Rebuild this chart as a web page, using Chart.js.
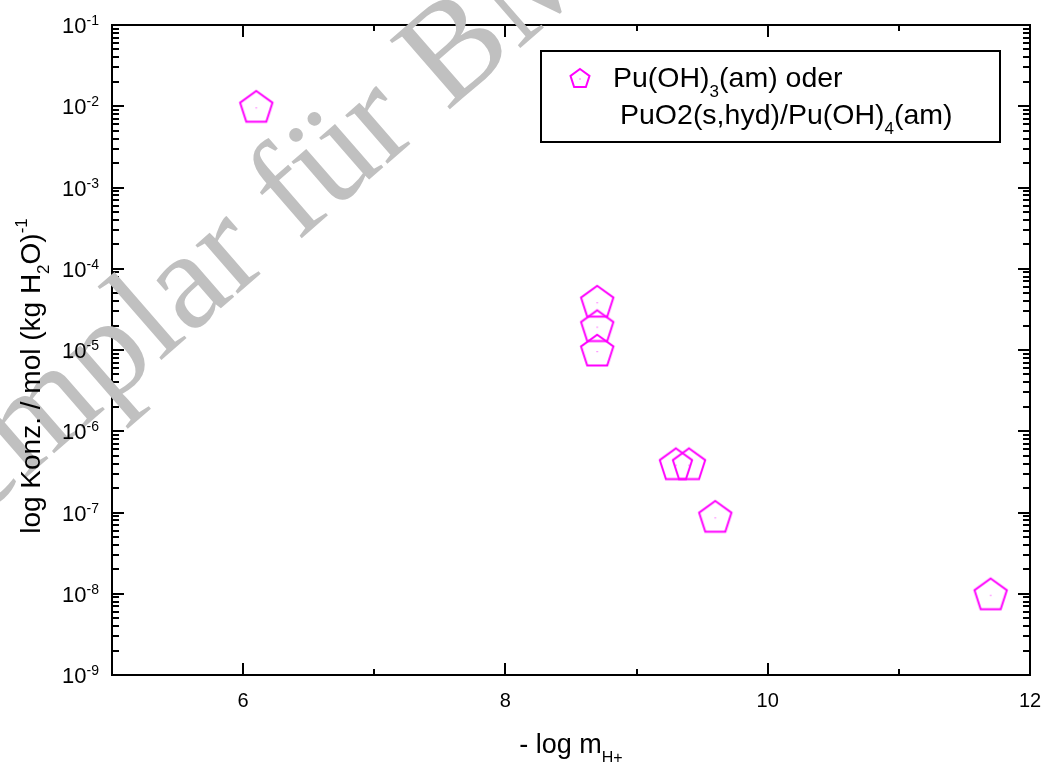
<!DOCTYPE html>
<html>
<head>
<meta charset="utf-8">
<script src="https://cdn.jsdelivr.net/npm/chart.js@4/dist/chart.umd.min.js"></script>
<style>
    body { margin: 0; background: #fff; }
    #wrap { width: 1046px; height: 762px; }
</style>
</head>
<body>
<div id="wrap"><canvas id="chart" width="1046" height="762"></canvas></div>
<script>
// --------------------- Data -------------------
const xValues = [6.1, 8.7, 8.7, 8.7, 9.3, 9.4, 9.6, 11.7];
const yValues = [1e-2, 4e-5, 2e-5, 1e-5, 4e-7, 4e-7, 9e-8, 1e-8];
const xMajorTicks = [6, 8, 10, 12];
const xMinorTicks = [7, 9, 11];
const yDecades = [-1, -2, -3, -4, -5, -6, -7, -8, -9];

const MAGENTA = '#ff00ff';
const FONT = '"Liberation Sans", Arial, sans-serif';

// pentagon marker drawn into a small canvas, used as pointStyle
function makePentagon(r, lw) {
    const size = Math.ceil(2 * r + lw * 2 + 2);
    const c = document.createElement('canvas');
    c.width = size;
    c.height = size;
    const g = c.getContext('2d');
    const cx = size / 2, cy = size / 2 + r * 0.1;
    g.strokeStyle = MAGENTA;
    g.lineWidth = lw;
    g.beginPath();
    for (let k = 0; k < 5; k++) {
        const a = -Math.PI / 2 + k * 2 * Math.PI / 5;
        const px = cx + r * Math.cos(a), py = cy + r * Math.sin(a);
        if (k === 0) g.moveTo(px, py); else g.lineTo(px, py);
    }
    g.closePath();
    g.stroke();
    g.fillStyle = MAGENTA;
    g.fillRect(cx - 0.5, cy - 0.5, 1, 1);
    return c;
}

const bigPentagon = makePentagon(17, 2);
const smallPentagon = makePentagon(10, 2);

// draw a run of text pieces with sub/superscripts
function richWidth(ctx, parts) {
    let w = 0;
    parts.forEach(p => {
        ctx.font = p.size + 'px ' + FONT;
        w += ctx.measureText(p.t).width;
    });
    return w;
}

function drawRich(ctx, parts, x, y) {
    let cx = x;
    parts.forEach(p => {
        ctx.font = p.size + 'px ' + FONT;
        ctx.fillText(p.t, cx, y + (p.dy || 0));
        cx += ctx.measureText(p.t).width;
    });
}

// --------------------- Axes, watermark, titles, legend -------------------
const framePlugin = {
    id: 'frame',
    afterDraw(chart) {
        const ctx = chart.ctx;
        const a = chart.chartArea;
        const xs = chart.scales.x, ys = chart.scales.y;

        ctx.save();
        ctx.strokeStyle = '#000';
        ctx.lineWidth = 2;
        ctx.strokeRect(a.left, a.top, a.right - a.left, a.bottom - a.top);

        ctx.beginPath();
        // x ticks, bottom and top, pointing inward
        xMajorTicks.concat(xMinorTicks).forEach(v => {
            const len = xMajorTicks.includes(v) ? 12 : 6;
            const px = Math.round(xs.getPixelForValue(v));
            ctx.moveTo(px, a.bottom);
            ctx.lineTo(px, a.bottom - len);
            ctx.moveTo(px, a.top);
            ctx.lineTo(px, a.top + len);
        });
        // y ticks, left and right, log minors
        yDecades.forEach(d => {
            for (let m = 1; m <= 9; m++) {
                if (d === -1 && m > 1) break;
                const v = m * Math.pow(10, d);
                const len = m === 1 ? 12 : 7;
                const py = Math.round(ys.getPixelForValue(v));
                ctx.moveTo(a.left, py);
                ctx.lineTo(a.left + len, py);
                ctx.moveTo(a.right, py);
                ctx.lineTo(a.right - len, py);
            }
        });
        ctx.stroke();

        // watermark
        ctx.save();
        ctx.translate(-140, 622);
        ctx.rotate(-41 * Math.PI / 180);
        ctx.fillStyle = '#c0c0c0';
        ctx.font = '140px "Liberation Serif", "Times New Roman", serif';
        ctx.textBaseline = 'alphabetic';
        ctx.fillText('Exemplar für BMU', 0, 0);
        ctx.restore();

        ctx.fillStyle = '#000';
        ctx.textBaseline = 'alphabetic';

        // y tick labels 10^d
        yDecades.forEach(d => {
            const py = ys.getPixelForValue(Math.pow(10, d));
            const parts = [
                { t: '10', size: 22, dy: 8 },
                { t: String(d), size: 14, dy: 0 }
            ];
            const w = richWidth(ctx, parts);
            drawRich(ctx, parts, 99 - w, py);
        });

        // x tick labels
        ctx.font = '20px ' + FONT;
        ctx.textAlign = 'center';
        xMajorTicks.forEach(v => {
            ctx.fillText(String(v), xs.getPixelForValue(v), 707);
        });
        ctx.textAlign = 'left';

        // x title
        const xt = [
            { t: '- log m', size: 27, dy: 0 },
            { t: 'H+', size: 16, dy: 10 }
        ];
        drawRich(ctx, xt, (a.left + a.right) / 2 - richWidth(ctx, xt) / 2, 753);

        // y title
        const yt = [
            { t: 'log Konz. / mol (kg H', size: 28, dy: 0 },
            { t: '2', size: 17, dy: 9 },
            { t: 'O)', size: 28, dy: 0 },
            { t: '-1', size: 17, dy: -13 }
        ];
        ctx.save();
        ctx.translate(40, 376);
        ctx.rotate(-Math.PI / 2);
        drawRich(ctx, yt, -richWidth(ctx, yt) / 2, 0);
        ctx.restore();

        // legend box
        ctx.lineWidth = 2;
        ctx.strokeRect(541, 51, 1000 - 541, 142 - 51);
        ctx.drawImage(smallPentagon, 580 - smallPentagon.width / 2, 78 - smallPentagon.height / 2);
        drawRich(ctx, [
            { t: 'Pu(OH)', size: 28.5, dy: 0 },
            { t: '3', size: 17, dy: 10 },
            { t: '(am) oder', size: 28.5, dy: 0 }
        ], 613, 87);
        drawRich(ctx, [
            { t: 'PuO2(s,hyd)/Pu(OH)', size: 28.5, dy: 0 },
            { t: '4', size: 17, dy: 10 },
            { t: '(am)', size: 28.5, dy: 0 }
        ], 620, 124);

        ctx.restore();
    }
};

// --------------------- Chart -------------------
new Chart(document.getElementById('chart').getContext('2d'), {
    type: 'scatter',
    data: {
        datasets: [{
            label: 'Pu(OH)3(am) oder PuO2(s,hyd)/Pu(OH)4(am)',
            data: xValues.map((x, i) => ({ x: x, y: yValues[i] })),
            pointStyle: bigPentagon,
            borderColor: MAGENTA,
            backgroundColor: MAGENTA
        }]
    },
    options: {
        responsive: false,
        animation: false,
        layout: { padding: { left: 112, top: 25, right: 16, bottom: 87 } },
        plugins: {
            legend: { display: false },
            tooltip: { enabled: false }
        },
        scales: {
            x: { type: 'linear', min: 5, max: 12, display: false },
            y: { type: 'logarithmic', min: 1e-9, max: 1e-1, display: false }
        }
    },
    plugins: [framePlugin]
});
</script>
</body>
</html>
